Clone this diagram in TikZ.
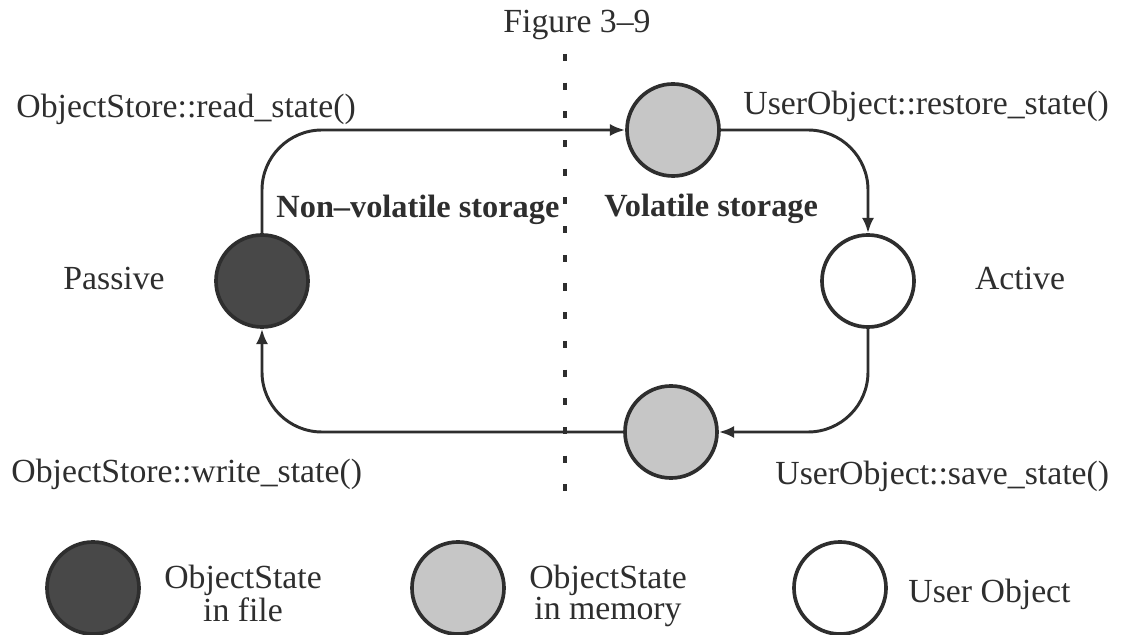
\documentclass[tikz,border=0pt]{standalone}
\usepackage{fontspec}
\setmainfont{Liberation Serif}
\usepackage{xcolor}
\usepackage{tikz}
\usetikzlibrary{arrows.meta}
\definecolor{Ink}{HTML}{2E2E2E}
\definecolor{FileFill}{HTML}{484848}
\definecolor{MemFill}{HTML}{C6C6C6}

\begin{document}
\begin{tikzpicture}[x=0.025cm, y=-0.025cm, line width=2.1pt, draw=Ink,
  every node/.style={font=\fontsize{24}{22}\selectfont, text=Ink, inner sep=0pt},
  region/.style={anchor=base west, font=\fontsize{23}{22}\selectfont\bfseries},
  state/.style={circle, draw=Ink, line width=2.6pt, minimum size=2.3cm},
  flow/.style={-{Latex[length=3.8mm, width=3mm]}, rounded corners=1.5cm}]
  \useasboundingbox (0,0) rectangle (1139,635);

  % divider between the two kinds of storage
  \draw[line width=2.2pt, dash pattern=on 5pt off 15.4pt] (565,54) -- (565,494);

  \node[state, fill=FileFill] (filed) at (262,281) {};
  \node[state, fill=MemFill] (loaded) at (673,130) {};
  \node[state, fill=white] (uobj) at (868,281) {};
  \node[state, fill=MemFill] (saved) at (671,432) {};

  \draw[flow] (filed.north) |- (loaded.west);
  \draw[flow] (loaded.east) -| (uobj.north);
  \draw[flow] (uobj.south) |- (saved.east);
  \draw[flow] (saved.west) -| (filed.south);

  \node[anchor=base] (title) at (577,33) {Figure 3--9};
  \node[anchor=base west] (readlbl) at (15,118) {ObjectStore::read\_state()};
  \node[anchor=base west] (restorelbl) at (742,115) {UserObject::restore\_state()};
  \node[region] (nvlbl) at (275,218) {Non--volatile storage};
  \node[region] (vlbl) at (603,217) {Volatile storage};
  \node[anchor=base] (passive) at (114,290) {Passive};
  \node[anchor=base] (active) at (1020,290) {Active};
  \node[anchor=base west] (writelbl) at (10,483) {ObjectStore::write\_state()};
  \node[anchor=base west] (savelbl) at (774,485) {UserObject::save\_state()};

  % legend
  \node[state, fill=FileFill] (keyfile) at (93,588) {};
  \node[state, fill=MemFill] (keymem) at (458,588) {};
  \node[state, fill=white] (keyuser) at (840,588) {};
  \node[anchor=north, align=center] (keyfiletxt) at (243,564) {ObjectState\\in file};
  \node[anchor=north, align=center] (keymemtxt) at (608,564) {ObjectState\\in memory};
  \node[anchor=base west] (keyusertxt) at (907,603) {User Object};
\end{tikzpicture}
\end{document}
